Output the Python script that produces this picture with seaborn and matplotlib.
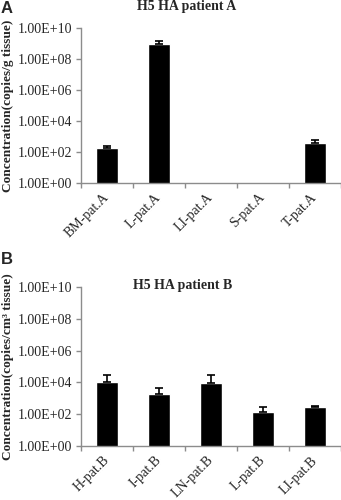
import numpy as np
import pandas as pd
import matplotlib
matplotlib.use("Agg")
import matplotlib.pyplot as plt
import seaborn as sns

# Data
cats_a = ["BM-pat.A", "L-pat.A", "LI-pat.A", "S-pat.A", "T-pat.A"]
vals_a = [1.95e2, 1.0e9, np.nan, np.nan, 4.1e2]
err_a = [0.55e2, 0.44e9, 0, 0, 2.0e2]

cats_b = ["H-pat.B", "I-pat.B", "LN-pat.B", "L-pat.B", "LI-pat.B"]
vals_b = [1.05e4, 2.0e3, 9.0e3, 1.4e2, 2.7e2]
err_b = [1.8e4, 2.5e3, 1.9e4, 1.3e2, 0.4e2]

yticks = [1e0, 1e2, 1e4, 1e6, 1e8, 1e10]
ytick_labels = ["1.00E+00", "1.00E+02", "1.00E+04", "1.00E+06", "1.00E+08", "1.00E+10"]

sns.set_style("white")
serif = ["Liberation Serif", "DejaVu Serif"]
plt.rcParams["font.family"] = serif

fig = plt.figure(figsize=(3.41, 5.0), dpi=100)
GREY = "#8c8c8c"

def panel(rect, cats, vals, errs, ylabel):
    ax = fig.add_axes(rect)
    df = pd.DataFrame({"cat": cats, "val": vals})
    sns.barplot(data=df, x="cat", y="val", order=cats, color="black",
                width=0.42, ax=ax, errorbar=None, saturation=1)
    ax.set_yscale("log")
    x = np.arange(len(cats))
    v = np.array(vals, dtype=float)
    e = np.array(errs, dtype=float)
    mask = ~np.isnan(v)
    ax.errorbar(x[mask], v[mask], yerr=[np.zeros(mask.sum()), e[mask]],
                fmt="none", ecolor="black", elinewidth=1.2, capsize=2.6, capthick=1.2)
    ax.set_ylim(1e0, 1e10)
    ax.set_xlim(-0.5, len(cats) - 0.5)
    ax.set_yticks(yticks)
    ax.set_yticklabels(ytick_labels, fontsize=10)
    ax.yaxis.set_minor_locator(matplotlib.ticker.NullLocator())
    ax.set_xticks(x)
    ax.set_xticklabels(cats, rotation=45, ha="right", va="center",
                       rotation_mode="anchor", fontsize=10)
    ax.set_xticks(np.arange(-0.5, len(cats)), minor=True)
    ax.set_xlabel("")
    ax.set_ylabel(ylabel, fontsize=9.6, fontweight="bold")
    ax.yaxis.set_label_coords(-0.257, 0.5)
    for s in ["top", "right"]:
        ax.spines[s].set_visible(False)
    for s in ["left", "bottom"]:
        ax.spines[s].set_color(GREY)
        ax.spines[s].set_linewidth(1.0)
    ax.tick_params(axis="y", which="major", direction="out", length=3.5,
                   color=GREY, width=1, pad=3, left=True)
    ax.tick_params(axis="x", which="major", length=0, pad=9)
    ax.tick_params(axis="x", which="minor", direction="out", length=3.5,
                   color=GREY, width=1, bottom=True)
    return ax

axA = panel([0.2375, 0.634, 0.7625, 0.310], cats_a, vals_a, err_a,
            "Concentration(copies/g tissue)")
axB = panel([0.2375, 0.108, 0.7625, 0.318], cats_b, vals_b, err_b,
            "Concentration(copies/cm\u00b3 tissue)")

fig.text(0.547, 0.987, "H5 HA patient A", ha="center", va="center",
         fontsize=10, fontweight="bold")
fig.text(0.537, 0.430, "H5 HA patient B", ha="center", va="center",
         fontsize=10, fontweight="bold")
fig.text(0.003, 0.998, "A", ha="left", va="top", fontsize=12, fontweight="bold",
         family=["Liberation Sans", "DejaVu Sans"])
fig.text(0.003, 0.495, "B", ha="left", va="top", fontsize=12, fontweight="bold",
         family=["Liberation Sans", "DejaVu Sans"])

fig.savefig("out.png", dpi=100)
